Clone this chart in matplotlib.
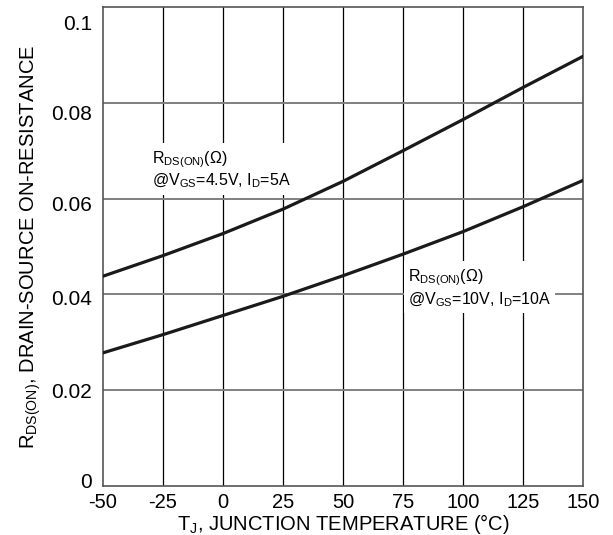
import matplotlib.pyplot as plt
from matplotlib.transforms import ScaledTranslation

plt.rcParams['font.family'] = ['Liberation Sans', 'DejaVu Sans']
plt.rcParams['mathtext.fontset'] = 'custom'
plt.rcParams['mathtext.rm'] = 'Liberation Sans'
plt.rcParams['mathtext.it'] = 'Liberation Sans'

# 数据
temps = [-50, -25, 0, 25, 50, 75, 100, 125, 150]
rds_4v5 = [0.0438, 0.0481, 0.0527, 0.0578, 0.0636, 0.0700, 0.0765, 0.0832, 0.0897]
rds_10v = [0.0278, 0.0316, 0.0356, 0.0396, 0.0439, 0.0484, 0.0531, 0.0583, 0.0638]

xticks = [-50, -25, 0, 25, 50, 75, 100, 125, 150]
yticks = [0, 0.02, 0.04, 0.06, 0.08, 0.1]
ytick_labels = ['0', '0.02', '0.04', '0.06', '0.08', '0.1']

fig = plt.figure(figsize=(6.13, 5.35), dpi=100)
ax = fig.add_axes([103 / 613, 1 - 486 / 535, 480 / 613, 479 / 535])

# 网格
for x in xticks[1:-1]:
    ax.axvline(x, color='black', linewidth=0.9, zorder=1)
for y in yticks[1:-1]:
    ax.axhline(y, color='#808080', linewidth=1.4, zorder=1)

ax.plot(temps, rds_4v5, color='#1a1a1a', linewidth=2.3, zorder=3)
ax.plot(temps, rds_10v, color='#1a1a1a', linewidth=2.3, zorder=3)

box = dict(facecolor='white', edgecolor='none', pad=3)
ax.text(-29.5, 0.066, r'R$_{\mathrm{DS(ON)}}$($\Omega$)' + '\n' + r'@V$_{\mathrm{GS}}$=4.5V, I$_{\mathrm{D}}$=5A',
        fontsize=11.5, va='center', ha='left', bbox=box, zorder=2, linespacing=1.15)
ax.text(77, 0.0413, r'R$_{\mathrm{DS(ON)}}$($\Omega$)' + '\n' + r'@V$_{\mathrm{GS}}$=10V, I$_{\mathrm{D}}$=10A',
        fontsize=11.5, va='center', ha='left', bbox=box, zorder=2, linespacing=1.15)

ax.set_xlim(-50, 150)
ax.set_ylim(0, 0.1)
ax.set_xticks(xticks)
ax.set_xticklabels([str(t) for t in xticks])
ax.set_yticks(yticks)
ax.set_yticklabels(ytick_labels)
ax.tick_params(length=0, labelsize=15)
ax.tick_params(axis='x', pad=5, labelsize=14.5)
ax.tick_params(axis='y', pad=8)

# y 刻度标签在原图中略有偏移
shifts = [-6, 0, 3, 5, 10, 15]
for lab, dy in zip(ax.get_yticklabels(), shifts):
    lab.set_transform(lab.get_transform() + ScaledTranslation(0, -dy / 100, fig.dpi_scale_trans))

for s in ax.spines.values():
    s.set_color('#555555')
    s.set_linewidth(1.2)

ax.set_xlabel(r'T$_{\mathrm{J}}$, JUNCTION TEMPERATURE ($\degree$C)', fontsize=14.5, labelpad=0)
ax.set_ylabel(r'R$_{\mathrm{DS(ON)}}$, DRAIN-SOURCE ON-RESISTANCE', fontsize=14.5, labelpad=6)

plt.savefig('out.png', dpi=100)
